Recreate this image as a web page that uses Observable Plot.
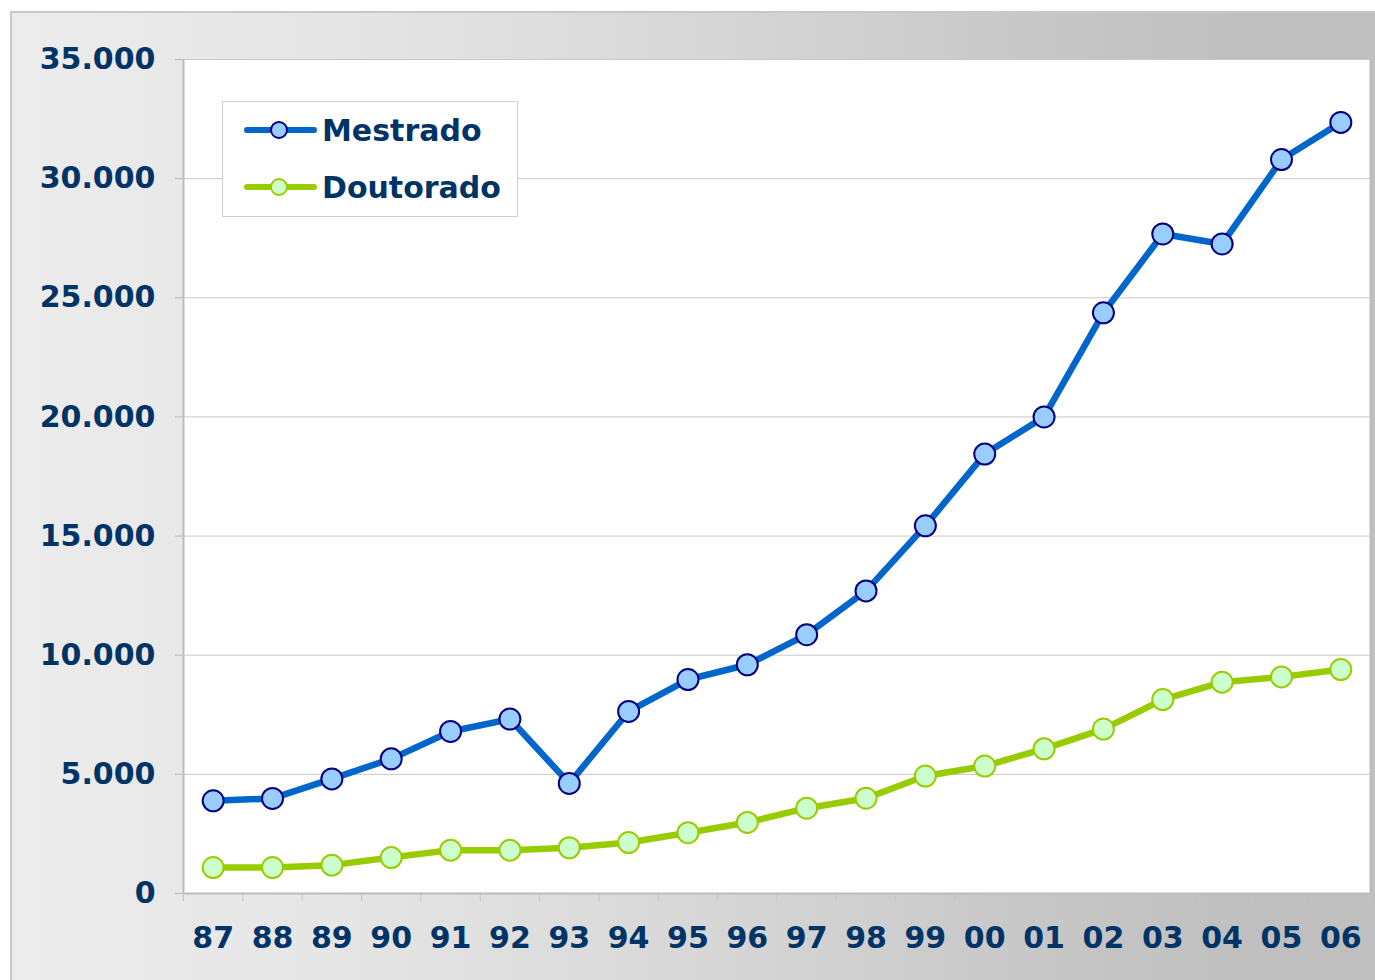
<!DOCTYPE html>
<html>
<head>
<meta charset="utf-8">
<script src="https://cdn.jsdelivr.net/npm/d3@7"></script>
<script src="https://cdn.jsdelivr.net/npm/@observablehq/plot@0.6"></script>
<style>
  html, body { margin: 0; padding: 0; background: #ffffff; overflow: hidden; }
  #wrap { position: relative; width: 1375px; height: 980px; overflow: hidden; }
  #bg { position: absolute; left: 10px; top: 11px; width: 1400px; height: 1000px;
        border-left: 2px solid #c8c8c8; border-top: 2px solid #c8c8c8; box-sizing: border-box;
        background: linear-gradient(to right, #ececec 0%, #e6e6e6 22%, #d8d8d8 48%, #c8c8c8 72%, #bfbfbf 88%, #bfbfbf 100%); }
  #chart { position: absolute; left: 0; top: 0; }
  #legend { position: absolute; left: 222px; top: 101px; width: 296px; height: 116px;
            background: #ffffff; border: 1px solid #d0d0d0; box-sizing: border-box; }
  #legend svg { position: absolute; left: 0; top: 0; }
</style>
</head>
<body>
<div id="wrap">
  <div id="bg"></div>
  <div id="chart"></div>
  <div id="legend"></div>
</div>
<script>
const years = ["87","88","89","90","91","92","93","94","95","96","97","98","99","00","01","02","03","04","05","06"];
const mestrado = [3890, 3990, 4810, 5650, 6800, 7320, 4620, 7640, 8980, 9600, 10860, 12700, 15430, 18440, 20000, 24370, 27680, 27260, 30800, 32360];
const doutorado = [1090, 1090, 1190, 1510, 1820, 1820, 1920, 2140, 2550, 2980, 3580, 4000, 4930, 5350, 6070, 6900, 8140, 8870, 9090, 9400];
const yTicks = [0, 5000, 10000, 15000, 20000, 25000, 30000, 35000];
const seriesNames = ["Mestrado", "Doutorado"];

const navy = "#003366";
const mestRows = years.map((y, i) => ({i, year: y, value: mestrado[i]}));
const doutRows = years.map((y, i) => ({i, year: y, value: doutorado[i]}));
const centers = years.map((y, i) => i + 0.5);
const bounds = d3.range(0, years.length + 1);
const fmt = d => d.toLocaleString("pt-BR");

const chart = Plot.plot({
  width: 1375,
  height: 980,
  marginLeft: 183,
  marginRight: 5,
  marginTop: 59,
  marginBottom: 87,
  style: {background: "transparent", fontFamily: "'DejaVu Sans', Verdana, sans-serif", fontSize: "30px", fontWeight: "bold", overflow: "visible"},
  x: {type: "linear", domain: [0, years.length], axis: null},
  y: {domain: [0, 35000], axis: null},
  marks: [
    Plot.frame({fill: "white", stroke: null}),
    Plot.ruleY(yTicks.slice(1), {stroke: "#c8c8c8", strokeWidth: 1}),
    Plot.axisY(yTicks, {tickSize: 8, tickPadding: 20, tickFormat: fmt, stroke: "#b8b8b8", fill: navy, label: null}),
    Plot.axisX(bounds, {tickSize: 8, tickFormat: () => "", stroke: "#c4c4c4", label: null}),
    Plot.axisX(centers, {tickSize: 0, tickPadding: 33, tickFormat: d => years[Math.floor(d)], fill: navy, label: null}),
    Plot.ruleX([0], {stroke: "#bcbcbc", strokeWidth: 2}),
    Plot.ruleX([years.length], {stroke: "#bcbcbc", strokeWidth: 2}),
    Plot.ruleY([0], {stroke: "#bcbcbc", strokeWidth: 2}),
    Plot.line(doutRows, {x: d => d.i + 0.5, y: "value", stroke: "#99cc00", strokeWidth: 6.5}),
    Plot.dot(doutRows, {x: d => d.i + 0.5, y: "value", r: 10.5, fill: "#ccffcc", stroke: "#99cc00", strokeWidth: 2}),
    Plot.line(mestRows, {x: d => d.i + 0.5, y: "value", stroke: "#0066cc", strokeWidth: 6.5}),
    Plot.dot(mestRows, {x: d => d.i + 0.5, y: "value", r: 10.5, fill: "#99ccff", stroke: "#000080", strokeWidth: 2})
  ]
});
document.getElementById("chart").appendChild(chart);

// Legend
const legendStyles = [
  {line: "#0066cc", fill: "#99ccff", stroke: "#000080"},
  {line: "#99cc00", fill: "#ccffcc", stroke: "#99cc00"}
];
const lsvg = d3.select("#legend").append("svg").attr("width", 296).attr("height", 116);
seriesNames.forEach((name, k) => {
  const cy = 28 + k * 57;
  const g = lsvg.append("g");
  g.append("line").attr("x1", 24).attr("x2", 91).attr("y1", cy).attr("y2", cy)
    .attr("stroke", legendStyles[k].line).attr("stroke-width", 6).attr("stroke-linecap", "round");
  g.append("circle").attr("cx", 56).attr("cy", cy).attr("r", 8)
    .attr("fill", legendStyles[k].fill).attr("stroke", legendStyles[k].stroke).attr("stroke-width", 2);
  g.append("text").attr("x", 99).attr("y", cy).attr("dy", "0.36em")
    .attr("fill", navy).attr("font-family", "'DejaVu Sans', Verdana, sans-serif")
    .attr("font-weight", "bold").attr("font-size", 30).text(name);
});
</script>
</body>
</html>
